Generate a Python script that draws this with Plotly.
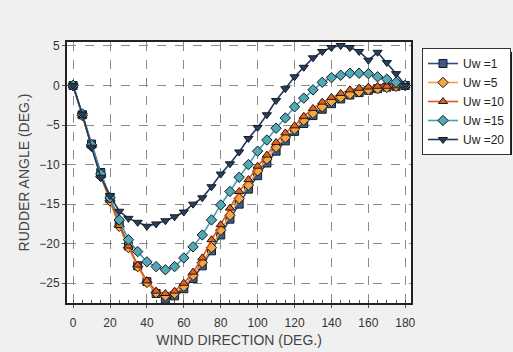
import plotly.graph_objects as go

wind_dir = list(range(0, 181, 5))

uw1 = [0, -3.7, -7.4, -11.0, -14.2, -17.4, -20.3, -22.8, -24.8, -26.3, -27.0, -26.6, -25.7, -24.4, -22.8,
       -20.9, -18.9, -16.9, -15.0, -13.1, -11.4, -9.8, -8.3, -7.0, -5.8, -4.8, -3.8, -3.0, -2.3, -1.7,
       -1.2, -0.9, -0.6, -0.4, -0.2, -0.1, 0]
uw5 = [0, -3.8, -7.7, -11.5, -14.6, -17.8, -20.5, -22.9, -24.9, -26.2, -26.6, -26.3, -25.4, -24.0, -22.4,
       -20.5, -18.3, -16.4, -14.3, -12.6, -10.8, -9.3, -7.8, -6.6, -5.5, -4.4, -3.5, -2.7, -2.0, -1.5,
       -1.1, -0.8, -0.55, -0.4, -0.25, -0.1, 0]
uw10 = [0, -3.8, -7.6, -11.4, -14.5, -17.7, -20.3, -22.7, -24.7, -26.0, -26.3, -26.0, -25.0, -23.6, -21.8,
        -19.5, -17.6, -15.5, -13.4, -11.9, -10.2, -8.8, -7.2, -6.0, -5.1, -3.9, -2.9, -2.1, -1.5, -1.0,
        -0.55, -0.35, -0.2, -0.1, -0.1, -0.05, 0]
uw15 = [0, -3.6, -7.5, -11.2, -14.2, -17.0, -19.5, -21.0, -22.3, -22.9, -23.3, -22.9, -21.8, -20.4, -18.9,
        -17.0, -15.1, -13.4, -11.6, -10.0, -8.3, -6.9, -5.4, -4.1, -2.7, -1.6, -0.55, 0.4, 1.0, 1.3,
        1.55, 1.55, 1.5, 1.1, 0.8, 0.4, 0]
uw20 = [0, -3.6, -7.8, -11.6, -13.9, -15.9, -16.8, -17.3, -17.8, -17.5, -17.1, -16.6, -16.0, -15.0, -14.2,
        -12.8, -11.2, -9.9, -8.4, -6.7, -5.3, -3.7, -1.9, -0.4, 1.1, 2.3, 3.5, 4.3, 4.8, 5.05,
        4.8, 4.3, 3.2, 4.2, 2.9, 1.5, 0]

series = [
    ("Uw =1", uw1, "square", "#3b5b8f", "#2f4f80"),
    ("Uw =5", uw5, "diamond", "#f4a640", "#f0a040"),
    ("Uw =10", uw10, "triangle-up", "#e8601e", "#e0561c"),
    ("Uw =15", uw15, "diamond", "#4fa9b8", "#45a0b0"),
    ("Uw =20", uw20, "triangle-down", "#243f66", "#1f3a5f"),
]

fig = go.Figure()
for name, ys, sym, fill, line in series:
    fig.add_trace(go.Scatter(
        x=wind_dir, y=ys, name=name, mode="lines+markers",
        line=dict(color=line, width=1.6),
        marker=dict(symbol=sym, size=8, color=fill, line=dict(color="#1a1a1a", width=1)),
    ))

axis_common = dict(
    showgrid=True, gridcolor="#8a8a8a", griddash="dash", gridwidth=1,
    showline=True, linecolor="#222222", linewidth=2, mirror=True,
    zeroline=False, ticks="outside", ticklen=3, tickcolor="#555",
    tickfont=dict(family="Liberation Sans, Arial", size=12, color="#333"),
)

fig.update_xaxes(
    range=[-3.3, 183.1], tickvals=list(range(0, 181, 20)),
    ticklabelstandoff=5,
    title=dict(text="WIND DIRECTION (DEG.)", font=dict(family="Liberation Sans, Arial", size=14, color="#444"), standoff=6),
    minor=dict(ticks="inside", ticklen=3, dtick=5, tickcolor="#555", showgrid=False),
    **axis_common,
)
fig.update_yaxes(
    range=[-27.5, 5.5], tickvals=[5, 0, -5, -10, -15, -20, -25],
    title=dict(text="RUDDER ANGLE (DEG.)", font=dict(family="Liberation Sans, Arial", size=14, color="#444"), standoff=6),
    **axis_common,
)

# legend drop shadow (behind legend, offset down-right)
def px_x(p):
    return (p - 67) / 344

def px_y(p):
    return (303 - p) / 261

fig.add_shape(type="rect", xref="paper", yref="paper",
              x0=px_x(426), x1=px_x(512), y0=px_y(155), y1=px_y(52),
              fillcolor="#1a1a1a", line=dict(width=0), layer="above")

fig.update_layout(
    width=513, height=352,
    margin=dict(l=67, r=102, t=42, b=49, autoexpand=False),
    paper_bgcolor="#f0f0f0", plot_bgcolor="#ffffff",
    font=dict(family="Liberation Sans, Arial", color="#333"),
    legend=dict(x=px_x(422), y=px_y(48), xanchor="left", yanchor="top",
                bgcolor="#ffffff", bordercolor="#333", borderwidth=1,
                font=dict(size=12, color="#222"), tracegroupgap=0,
                itemwidth=30),
    showlegend=True,
)

fig.write_html("out.html")
